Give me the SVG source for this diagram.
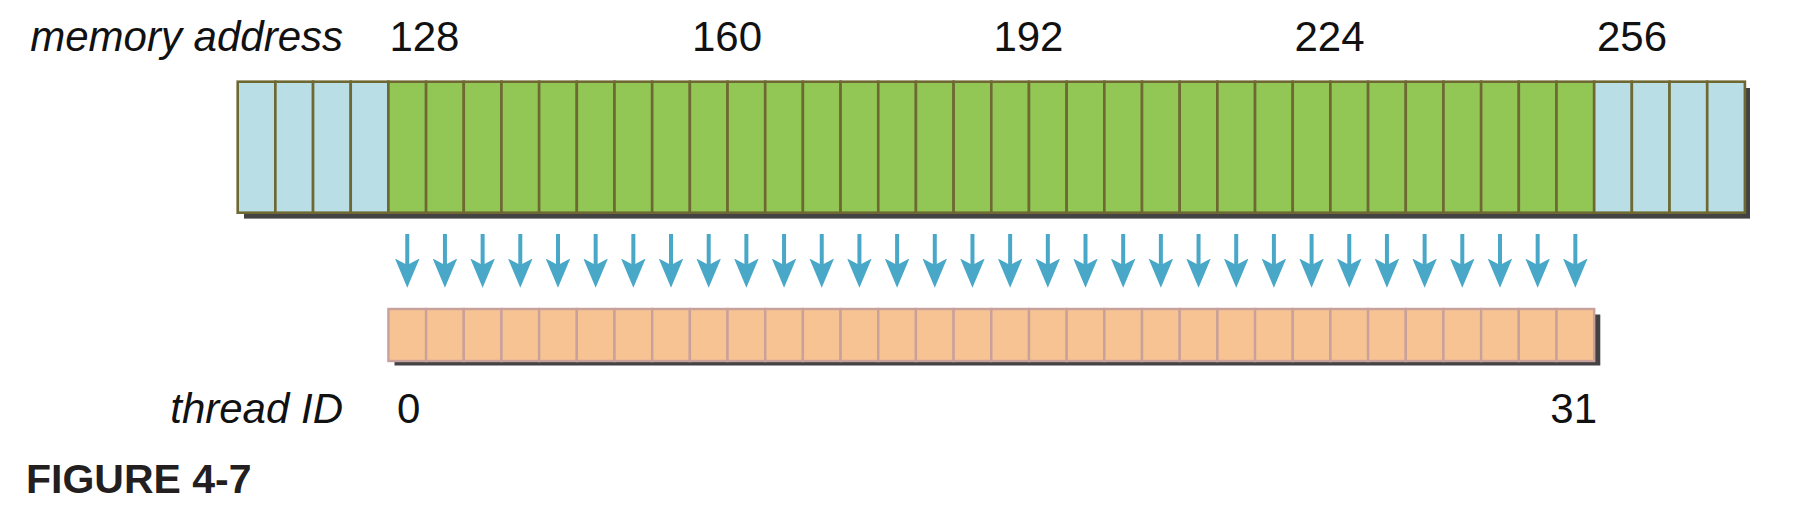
<svg xmlns="http://www.w3.org/2000/svg" xmlns:xlink="http://www.w3.org/1999/xlink" width="1801" height="526" viewBox="0 0 1801 526">
  <style>
    .lbl { font-family: "Liberation Sans", Arial, sans-serif; font-size: 42px; fill: #111111; }
    .ital { font-style: italic; }
    .fig { font-family: "Liberation Sans", Arial, sans-serif; font-size: 41px; font-weight: bold; fill: #231F20; }
    .shadow { fill: #434343; }
    .blue { fill: #B9DEE5; stroke: #6E6832; stroke-width: 2.6; }
    .green { fill: #92C755; stroke: #6E6832; stroke-width: 2.6; }
    .thr { fill: #F8C393; stroke: #C9A19B; stroke-width: 2.4; }
    .arr { stroke: #49A7C7; stroke-width: 4; fill: none; marker-end: url(#ah); }
  </style>
  <defs>
    <marker id="ah" markerUnits="userSpaceOnUse" viewBox="0 -13 30 26" markerWidth="30" markerHeight="26" refX="11.5" refY="0" orient="auto">
      <path d="M0,-12.3 L29.2,0 L0,12.3 L6.5,0 Z" fill="#49A7C7"/>
    </marker>
    <rect id="mc" y="81.7" width="37.68" height="131"/>
    <rect id="tc" y="309" width="37.68" height="52"/>
  </defs>

  <g id="labels-top">
    <text class="lbl ital" x="343" y="51" text-anchor="end">memory address</text>
    <text class="lbl" x="389.4" y="51">128</text>
    <text class="lbl" x="692" y="51">160</text>
    <text class="lbl" x="993.4" y="51">192</text>
    <text class="lbl" x="1294.5" y="51">224</text>
    <text class="lbl" x="1597" y="51">256</text>
  </g>

  <g id="memory-row">
    <rect class="shadow" x="244" y="88" width="1506" height="130.6"/>
    <g class="blue">
      <use xlink:href="#mc" x="237.70"/><use xlink:href="#mc" x="275.38"/><use xlink:href="#mc" x="313.06"/><use xlink:href="#mc" x="350.74"/>
    </g>
    <g class="green">
      <use xlink:href="#mc" x="388.42"/><use xlink:href="#mc" x="426.10"/><use xlink:href="#mc" x="463.78"/><use xlink:href="#mc" x="501.46"/>
      <use xlink:href="#mc" x="539.14"/><use xlink:href="#mc" x="576.82"/><use xlink:href="#mc" x="614.50"/><use xlink:href="#mc" x="652.18"/>
      <use xlink:href="#mc" x="689.86"/><use xlink:href="#mc" x="727.54"/><use xlink:href="#mc" x="765.22"/><use xlink:href="#mc" x="802.90"/>
      <use xlink:href="#mc" x="840.58"/><use xlink:href="#mc" x="878.26"/><use xlink:href="#mc" x="915.94"/><use xlink:href="#mc" x="953.62"/>
      <use xlink:href="#mc" x="991.30"/><use xlink:href="#mc" x="1028.98"/><use xlink:href="#mc" x="1066.66"/><use xlink:href="#mc" x="1104.34"/>
      <use xlink:href="#mc" x="1142.02"/><use xlink:href="#mc" x="1179.70"/><use xlink:href="#mc" x="1217.38"/><use xlink:href="#mc" x="1255.06"/>
      <use xlink:href="#mc" x="1292.74"/><use xlink:href="#mc" x="1330.42"/><use xlink:href="#mc" x="1368.10"/><use xlink:href="#mc" x="1405.78"/>
      <use xlink:href="#mc" x="1443.46"/><use xlink:href="#mc" x="1481.14"/><use xlink:href="#mc" x="1518.82"/><use xlink:href="#mc" x="1556.50"/>
    </g>
    <g class="blue">
      <use xlink:href="#mc" x="1594.18"/><use xlink:href="#mc" x="1631.86"/><use xlink:href="#mc" x="1669.54"/><use xlink:href="#mc" x="1707.22"/>
    </g>
  </g>

  <g id="connectors">
    <line class="arr" x1="407.26" y1="234" x2="407.26" y2="270"/>
    <line class="arr" x1="444.94" y1="234" x2="444.94" y2="270"/>
    <line class="arr" x1="482.62" y1="234" x2="482.62" y2="270"/>
    <line class="arr" x1="520.30" y1="234" x2="520.30" y2="270"/>
    <line class="arr" x1="557.98" y1="234" x2="557.98" y2="270"/>
    <line class="arr" x1="595.66" y1="234" x2="595.66" y2="270"/>
    <line class="arr" x1="633.34" y1="234" x2="633.34" y2="270"/>
    <line class="arr" x1="671.02" y1="234" x2="671.02" y2="270"/>
    <line class="arr" x1="708.70" y1="234" x2="708.70" y2="270"/>
    <line class="arr" x1="746.38" y1="234" x2="746.38" y2="270"/>
    <line class="arr" x1="784.06" y1="234" x2="784.06" y2="270"/>
    <line class="arr" x1="821.74" y1="234" x2="821.74" y2="270"/>
    <line class="arr" x1="859.42" y1="234" x2="859.42" y2="270"/>
    <line class="arr" x1="897.10" y1="234" x2="897.10" y2="270"/>
    <line class="arr" x1="934.78" y1="234" x2="934.78" y2="270"/>
    <line class="arr" x1="972.46" y1="234" x2="972.46" y2="270"/>
    <line class="arr" x1="1010.14" y1="234" x2="1010.14" y2="270"/>
    <line class="arr" x1="1047.82" y1="234" x2="1047.82" y2="270"/>
    <line class="arr" x1="1085.50" y1="234" x2="1085.50" y2="270"/>
    <line class="arr" x1="1123.18" y1="234" x2="1123.18" y2="270"/>
    <line class="arr" x1="1160.86" y1="234" x2="1160.86" y2="270"/>
    <line class="arr" x1="1198.54" y1="234" x2="1198.54" y2="270"/>
    <line class="arr" x1="1236.22" y1="234" x2="1236.22" y2="270"/>
    <line class="arr" x1="1273.90" y1="234" x2="1273.90" y2="270"/>
    <line class="arr" x1="1311.58" y1="234" x2="1311.58" y2="270"/>
    <line class="arr" x1="1349.26" y1="234" x2="1349.26" y2="270"/>
    <line class="arr" x1="1386.94" y1="234" x2="1386.94" y2="270"/>
    <line class="arr" x1="1424.62" y1="234" x2="1424.62" y2="270"/>
    <line class="arr" x1="1462.30" y1="234" x2="1462.30" y2="270"/>
    <line class="arr" x1="1499.98" y1="234" x2="1499.98" y2="270"/>
    <line class="arr" x1="1537.66" y1="234" x2="1537.66" y2="270"/>
    <line class="arr" x1="1575.34" y1="234" x2="1575.34" y2="270"/>
  </g>

  <g id="thread-row">
    <rect class="shadow" x="394.5" y="314.5" width="1205.8" height="51"/>
    <g class="thr">
      <use xlink:href="#tc" x="388.42"/><use xlink:href="#tc" x="426.10"/><use xlink:href="#tc" x="463.78"/><use xlink:href="#tc" x="501.46"/>
      <use xlink:href="#tc" x="539.14"/><use xlink:href="#tc" x="576.82"/><use xlink:href="#tc" x="614.50"/><use xlink:href="#tc" x="652.18"/>
      <use xlink:href="#tc" x="689.86"/><use xlink:href="#tc" x="727.54"/><use xlink:href="#tc" x="765.22"/><use xlink:href="#tc" x="802.90"/>
      <use xlink:href="#tc" x="840.58"/><use xlink:href="#tc" x="878.26"/><use xlink:href="#tc" x="915.94"/><use xlink:href="#tc" x="953.62"/>
      <use xlink:href="#tc" x="991.30"/><use xlink:href="#tc" x="1028.98"/><use xlink:href="#tc" x="1066.66"/><use xlink:href="#tc" x="1104.34"/>
      <use xlink:href="#tc" x="1142.02"/><use xlink:href="#tc" x="1179.70"/><use xlink:href="#tc" x="1217.38"/><use xlink:href="#tc" x="1255.06"/>
      <use xlink:href="#tc" x="1292.74"/><use xlink:href="#tc" x="1330.42"/><use xlink:href="#tc" x="1368.10"/><use xlink:href="#tc" x="1405.78"/>
      <use xlink:href="#tc" x="1443.46"/><use xlink:href="#tc" x="1481.14"/><use xlink:href="#tc" x="1518.82"/><use xlink:href="#tc" x="1556.50"/>
    </g>
  </g>

  <g id="labels-bottom">
    <text class="lbl ital" x="343" y="423" text-anchor="end">thread ID</text>
    <text class="lbl" x="397" y="423">0</text>
    <text class="lbl" x="1597" y="423" text-anchor="end">31</text>
  </g>

  <g id="caption">
    <text class="fig" x="26" y="493">FIGURE 4-7</text>
  </g>
</svg>
